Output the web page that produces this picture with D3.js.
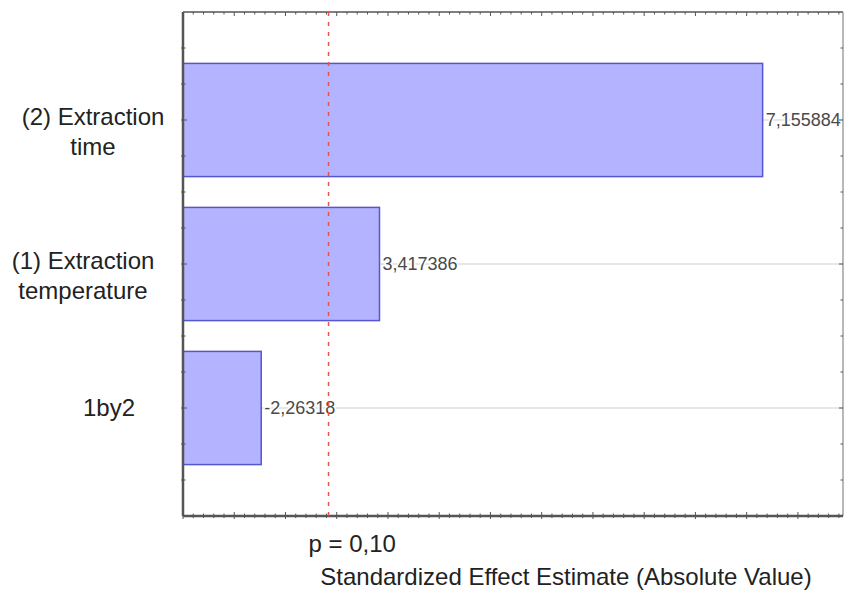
<!DOCTYPE html>
<html>
<head>
<meta charset="utf-8">
<script src="https://cdn.jsdelivr.net/npm/d3@7"></script>
<style>
  html, body { margin: 0; padding: 0; background: #fff; }
  svg { display: block; font-family: "Liberation Sans", Arial, sans-serif; }
</style>
</head>
<body>
<svg id="chart" width="845" height="590"></svg>
<script>
// Pareto chart of standardized effects
const effects = ["(2) Extraction time", "(1) Extraction temperature", "1by2"];
const effectLines = [["(2) Extraction", "time"], ["(1) Extraction", "temperature"], ["1by2"]];
const estimates = [7.155884, 3.417386, -2.26318];
const pCritical = 2.919986;          // t critical value at p = 0.10
const pLabel = "p = 0,10";
const xTitle = "Standardized Effect Estimate (Absolute Value)";
const xDomain = [1.5, 7.94];

// layout
const W = 845, H = 590;
const plot = { left: 183, right: 843, top: 12, bottom: 516 };
const labelCenters = [93, 83, 109];   // horizontal centre of each category label

const svg = d3.select("#chart");

const x = d3.scaleLinear().domain(xDomain).range([plot.left, plot.right]);
const y = d3.scalePoint().domain(effects).range([plot.top, plot.bottom]).padding(0.75);
const step = y.step();
const barHalf = step * 0.393;

const fmt = v => String(v).replace(".", ",");

// horizontal grid lines at each effect
svg.append("g").selectAll("line").data(effects).join("line")
  .attr("x1", plot.left).attr("x2", plot.right)
  .attr("y1", d => y(d)).attr("y2", d => y(d))
  .attr("stroke", "#cfcfcf").attr("stroke-width", 1);

// bars (absolute value of the effect)
svg.append("g").selectAll("rect").data(effects).join("rect")
  .attr("x", x(xDomain[0]))
  .attr("y", d => y(d) - barHalf)
  .attr("width", (d, i) => x(Math.abs(estimates[i])) - x(xDomain[0]))
  .attr("height", barHalf * 2)
  .attr("fill", "#b3b3ff")
  .attr("stroke", "#5656d0")
  .attr("stroke-width", 1.5);

// value labels
svg.append("g").selectAll("text").data(effects).join("text")
  .attr("x", (d, i) => x(Math.abs(estimates[i])) + 3)
  .attr("y", d => y(d) + 6)
  .attr("font-size", 18)
  .attr("fill", "#4a4a4a")
  .attr("stroke", "#fff").attr("stroke-width", 3).attr("paint-order", "stroke")
  .text((d, i) => fmt(estimates[i]));

// frame
const frame = svg.append("g").attr("fill", "none");
frame.append("line").attr("x1", plot.left).attr("x2", plot.right).attr("y1", plot.top).attr("y2", plot.top)
  .attr("stroke", "#555").attr("stroke-width", 1.5);
frame.append("line").attr("x1", plot.right).attr("x2", plot.right).attr("y1", plot.top).attr("y2", plot.bottom)
  .attr("stroke", "#888").attr("stroke-width", 1.2);
frame.append("line").attr("x1", plot.left).attr("x2", plot.left).attr("y1", plot.top).attr("y2", plot.bottom)
  .attr("stroke", "#555").attr("stroke-width", 2.5);
frame.append("line").attr("x1", plot.left).attr("x2", plot.right).attr("y1", plot.bottom).attr("y2", plot.bottom)
  .attr("stroke", "#555").attr("stroke-width", 2.5);

// x ticks: minor every 0.1, major every 0.5 (top and bottom edges)
const xTicks = d3.range(Math.round(xDomain[0] * 10), Math.floor(xDomain[1] * 10) + 1).map(v => v / 10);
const isMajor = v => Math.abs(v * 2 - Math.round(v * 2)) < 1e-6;
const tk = svg.append("g").attr("stroke", "#555").attr("stroke-width", 1);
tk.selectAll(".tb").data(xTicks).join("line").attr("class", "tb")
  .attr("x1", d => x(d)).attr("x2", d => x(d))
  .attr("y1", d => plot.bottom - (isMajor(d) ? 4 : 2.5))
  .attr("y2", d => plot.bottom + (isMajor(d) ? 3 : 2));
tk.selectAll(".tt").data(xTicks).join("line").attr("class", "tt")
  .attr("x1", d => x(d)).attr("x2", d => x(d))
  .attr("y1", plot.top)
  .attr("y2", d => plot.top + (isMajor(d) ? 4 : 2.5));

// y ticks every quarter step on left and right edges
const yTicks = d3.range(1, Math.round((plot.bottom - plot.top) / (step / 4))).map(k => plot.top + k * step / 4);
tk.selectAll(".tl").data(yTicks).join("line").attr("class", "tl")
  .attr("y1", d => d).attr("y2", d => d)
  .attr("x1", plot.left - 2).attr("x2", (d, i) => plot.left + ((i + 1) % 4 === 3 ? 4 : 2.5));
tk.selectAll(".tr").data(yTicks).join("line").attr("class", "tr")
  .attr("y1", d => d).attr("y2", d => d)
  .attr("x1", (d, i) => plot.right - ((i + 1) % 4 === 3 ? 4 : 2.5)).attr("x2", plot.right);

// category labels
const cat = svg.append("g").attr("font-size", 24).attr("fill", "#222").attr("text-anchor", "middle");
effects.forEach((e, i) => {
  const lines = effectLines[i];
  const base = lines.length > 1 ? y(e) + 5 : y(e) + 8;
  lines.forEach((t, j) => {
    cat.append("text")
      .attr("x", labelCenters[i])
      .attr("y", base + j * 29.5)
      .text(t);
  });
});

// significance line
svg.append("line")
  .attr("x1", x(pCritical)).attr("x2", x(pCritical))
  .attr("y1", plot.top).attr("y2", plot.bottom)
  .attr("stroke", "#e4544c").attr("stroke-width", 1.5)
  .attr("stroke-dasharray", "4,6");

svg.append("text")
  .attr("x", x(pCritical) - 20).attr("y", 552)
  .attr("font-size", 24).attr("fill", "#222")
  .text(pLabel);

svg.append("text")
  .attr("x", 566).attr("y", 585)
  .attr("text-anchor", "middle")
  .attr("font-size", 24).attr("fill", "#222")
  .text(xTitle);
</script>
</body>
</html>
